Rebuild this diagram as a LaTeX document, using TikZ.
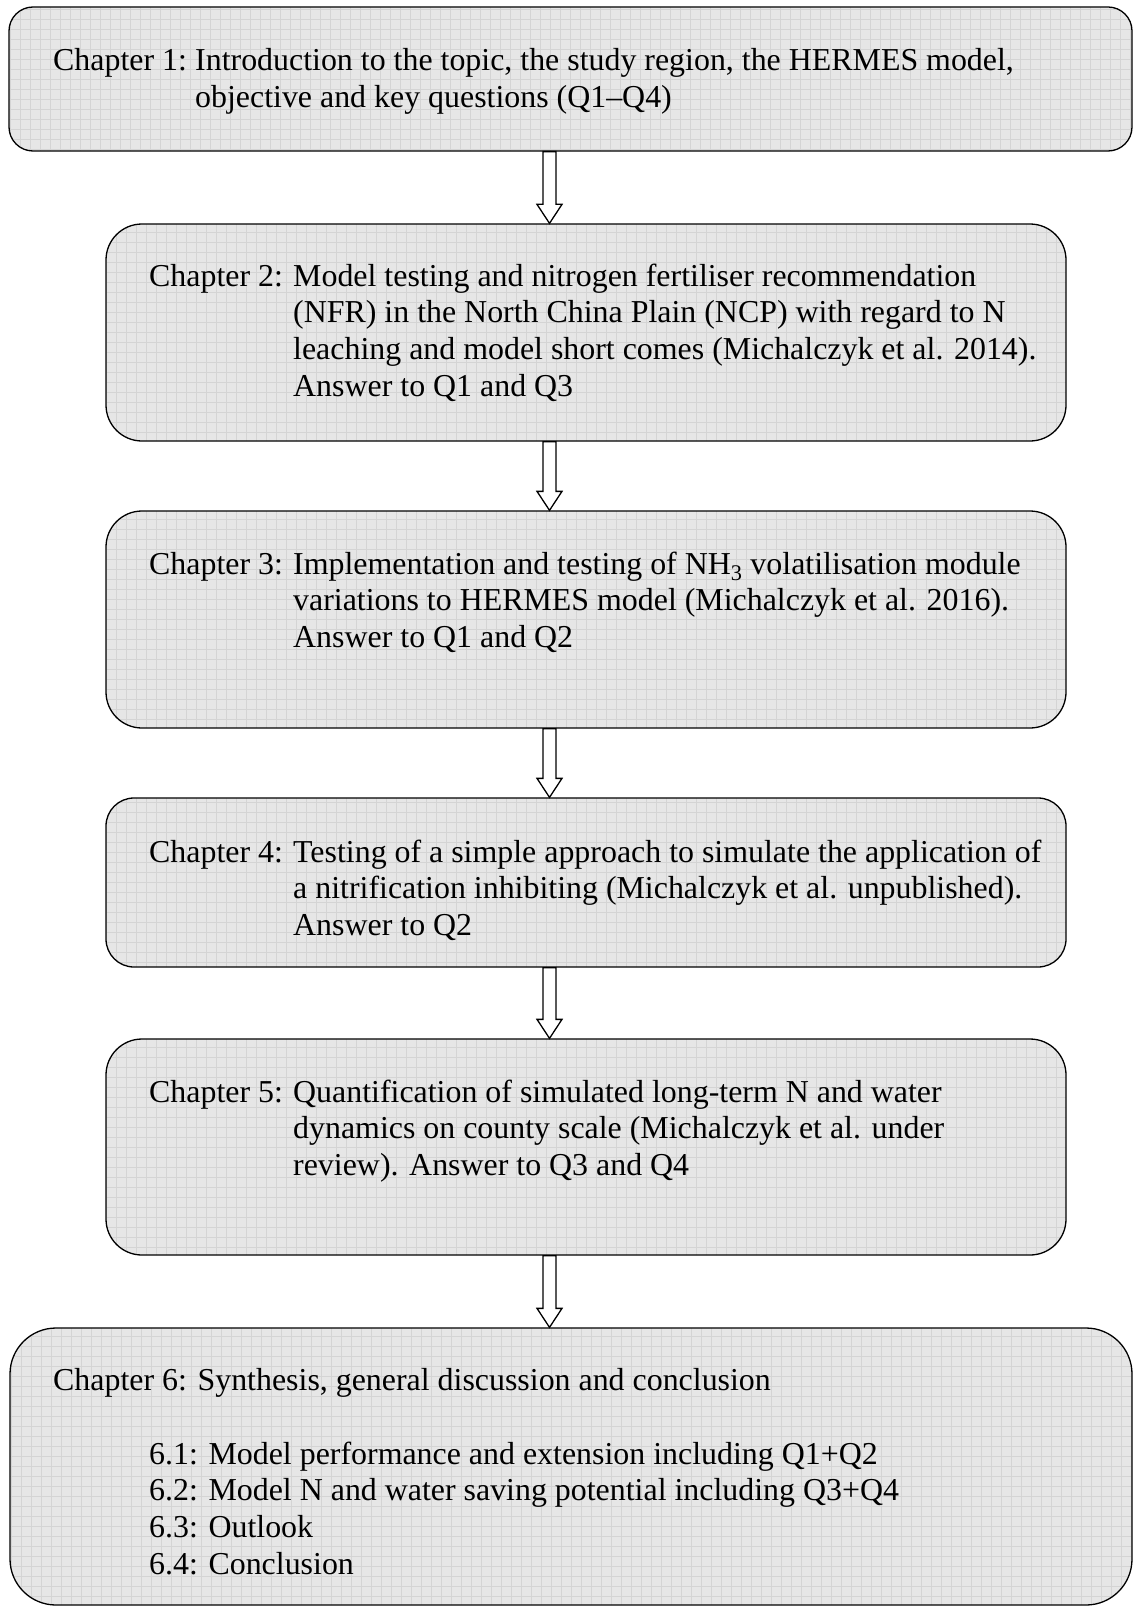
\documentclass[tikz,border=0pt]{standalone}
\usepackage{fontspec}
\setmainfont{Liberation Serif}
\usetikzlibrary{calc}
\definecolor{boxfill}{RGB}{230,230,230}
\definecolor{gridline}{RGB}{212,212,212}
\tikzset{
  chapbox/.style={draw=black, line width=1.3pt, fill=boxfill, inner sep=0pt,
    path picture={\draw[gridline, line width=0.6pt, step=10pt]
      (path picture bounding box.south west) grid (path picture bounding box.north east);}},
  txt/.style={anchor=base west, inner sep=0pt, font=\fontsize{31.9}{36.7}\selectfont},
  flowarrow/.style={draw=black, line width=1.3pt, fill=white, line join=miter}
}
\newcommand\chaparrow[2]{%
  \draw[flowarrow] ($(ax|-#1.south)+(-6.5,0)$) -- ($(ax|-#2.north)+(-6.5,-19)$)
    -- ($(ax|-#2.north)+(-12.5,-19)$) -- (ax|-#2.north)
    -- ($(ax|-#2.north)+(12.5,-19)$) -- ($(ax|-#2.north)+(6.5,-19)$)
    -- ($(ax|-#1.south)+(6.5,0)$) -- cycle;}
\begin{document}
\begin{tikzpicture}[x=1pt,y=-1pt]
\useasboundingbox (0,0) rectangle (1133,1608);
\coordinate (ax) at (549.5,0);

% boxes
\node[chapbox, rounded corners=24pt, minimum width=1123pt, minimum height=144pt] (b1) at (570.5,79) {};
\node[chapbox, rounded corners=36pt, minimum width=960pt, minimum height=217pt] (b2) at (586,332.5) {};
\node[chapbox, rounded corners=36pt, minimum width=960pt, minimum height=217pt] (b3) at (586,619.5) {};
\node[chapbox, rounded corners=28pt, minimum width=960pt, minimum height=169pt] (b4) at (586,882.5) {};
\node[chapbox, rounded corners=36pt, minimum width=960pt, minimum height=216pt] (b5) at (586,1147) {};
\node[chapbox, rounded corners=46pt, minimum width=1122pt, minimum height=277pt] (b6) at (571,1466.5) {};

% arrows
\chaparrow{b1}{b2}
\chaparrow{b2}{b3}
\chaparrow{b3}{b4}
\chaparrow{b4}{b5}
\chaparrow{b5}{b6}

% texts
\node[txt] (t1a) at (53,71) {Chapter 1:};
\node[txt] (t1b) at (195,71) {\begin{tabular}[t]{@{}l@{}}Introduction to the topic, the study region, the HERMES model,\\ objective and key questions (Q1–Q4)\end{tabular}};

\node[txt] (t2a) at (149,286) {Chapter 2:};
\node[txt] (t2b) at (293,286) {\begin{tabular}[t]{@{}l@{}}Model testing and nitrogen fertiliser recommendation\\ (NFR) in the North China Plain (NCP) with regard to N\\ leaching and model short comes (Michalczyk et al. 2014).\\ Answer to Q1 and Q3\end{tabular}};

\node[txt] (t3a) at (149,574) {Chapter 3:};
\node[txt] (t3b) at (293,574) {\begin{tabular}[t]{@{}l@{}}Implementation and testing of NH\textsubscript{3} volatilisation module\\ variations to HERMES model (Michalczyk et al. 2016).\\ Answer to Q1 and Q2\end{tabular}};

\node[txt] (t4a) at (149,862) {Chapter 4:};
\node[txt] (t4b) at (293,862) {\begin{tabular}[t]{@{}l@{}}Testing of a simple approach to simulate the application of\\ a nitrification inhibiting (Michalczyk et al. unpublished).\\ Answer to Q2\end{tabular}};

\node[txt] (t5a) at (149,1102) {Chapter 5:};
\node[txt] (t5b) at (293,1102) {\begin{tabular}[t]{@{}l@{}}Quantification of simulated long-term N and water\\ dynamics on county scale (Michalczyk et al. under\\ review). Answer to Q3 and Q4\end{tabular}};

\node[txt] (t6a) at (53,1390) {Chapter 6: Synthesis, general discussion and conclusion};
\node[txt] (t6b) at (149,1464) {\begin{tabular}[t]{@{}l@{}}6.1: Model performance and extension including Q1+Q2\\ 6.2: Model N and water saving potential including Q3+Q4\\ 6.3: Outlook\\ 6.4: Conclusion\end{tabular}};
\end{tikzpicture}
\end{document}
